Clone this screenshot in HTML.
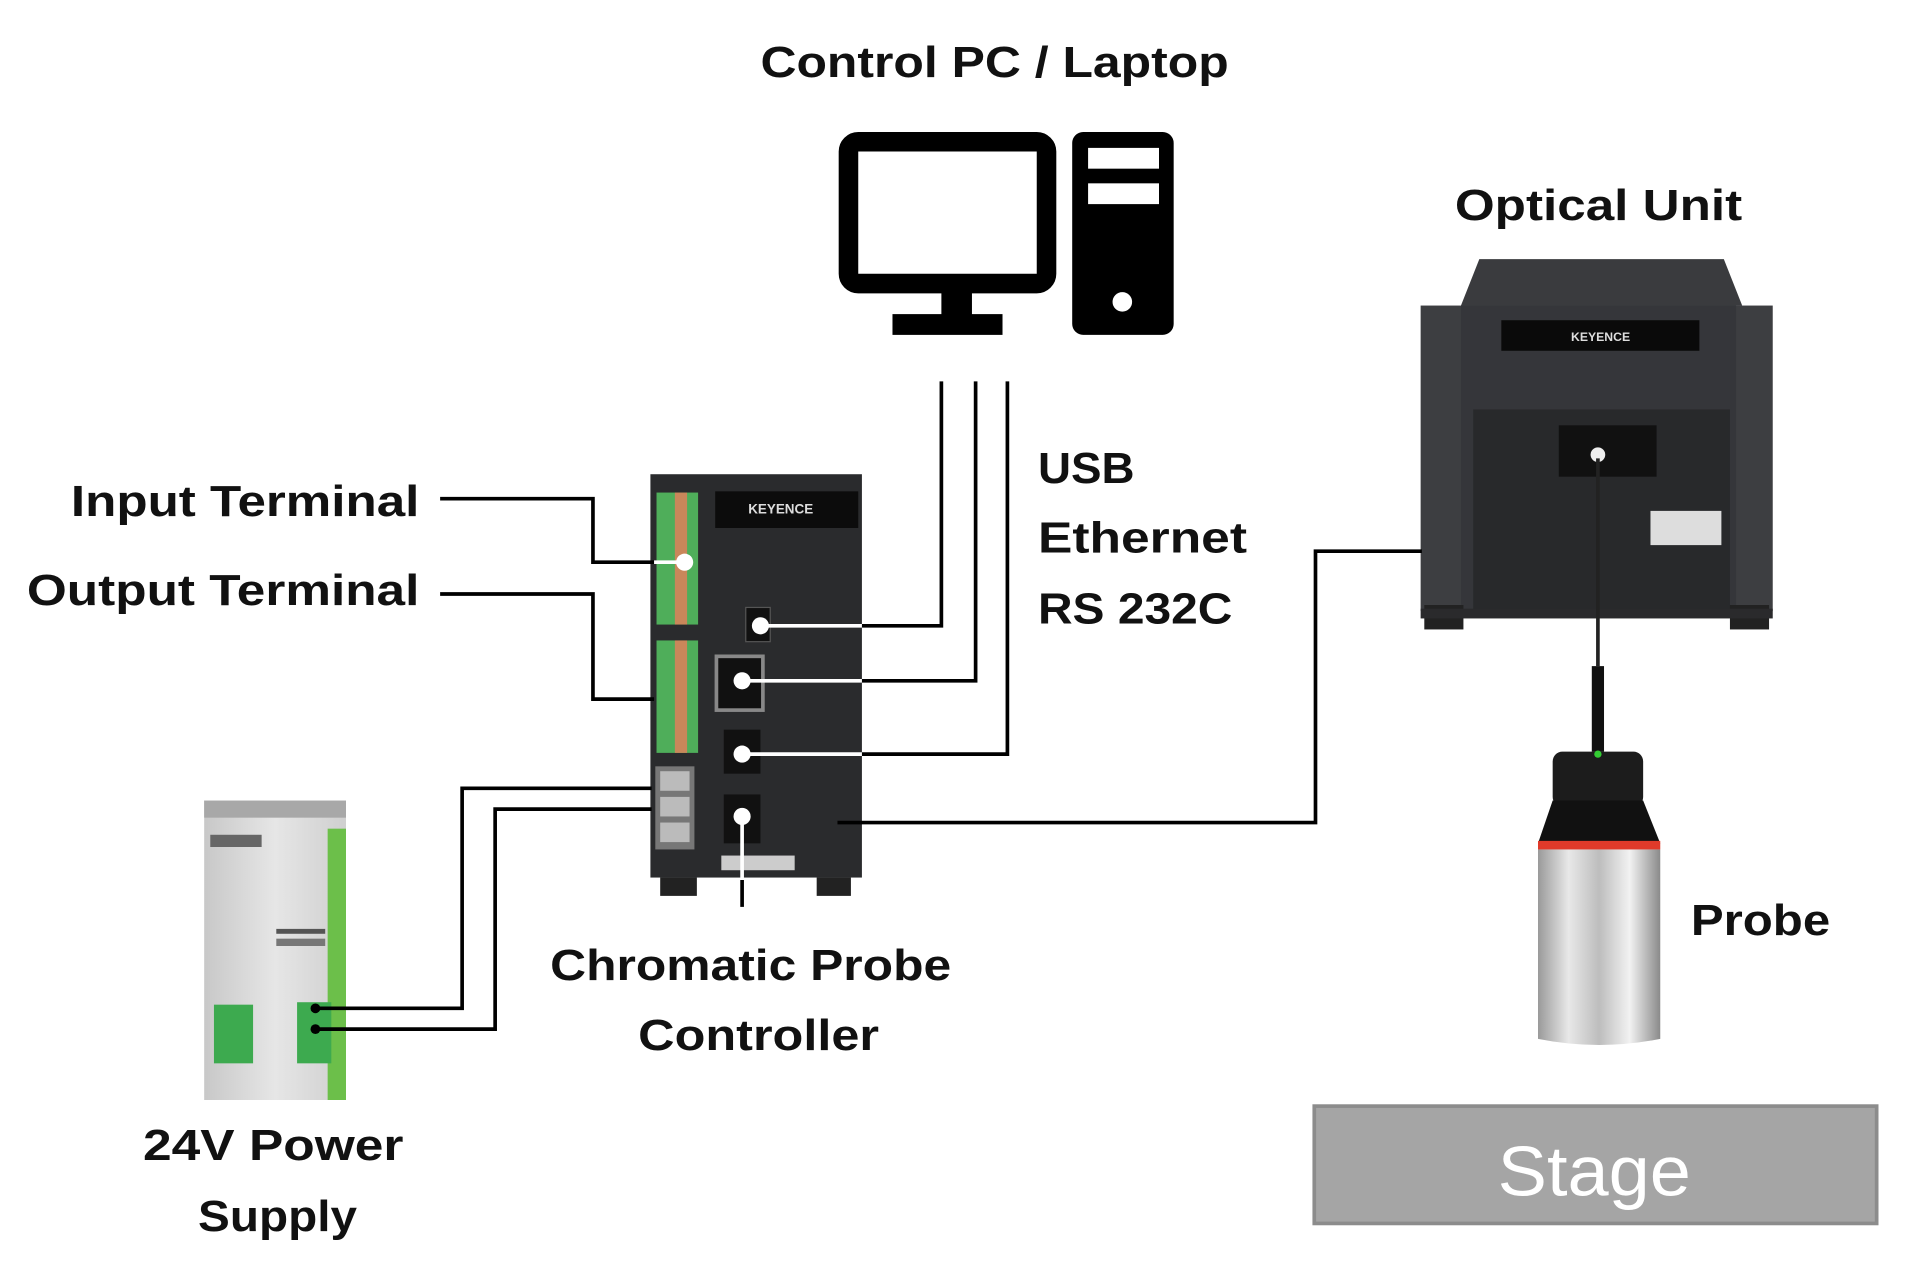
<!DOCTYPE html>
<html><head><meta charset="utf-8"><style>
html,body{margin:0;padding:0;background:#fff;width:1917px;height:1276px;overflow:hidden}
svg{display:block}
text{font-family:"Liberation Sans",sans-serif;font-weight:bold;fill:#111}
</style></head><body>
<svg width="1917" height="1276" viewBox="0 0 1568 1044" preserveAspectRatio="none" xmlns="http://www.w3.org/2000/svg">
<defs>
<linearGradient id="silver" x1="0" x2="1" y1="0" y2="0">
<stop offset="0" stop-color="#9a9a9a"/><stop offset="0.25" stop-color="#e8e8e8"/><stop offset="0.5" stop-color="#bdbdbd"/><stop offset="0.75" stop-color="#f2f2f2"/><stop offset="1" stop-color="#8a8a8a"/></linearGradient>
<linearGradient id="psu" x1="0" x2="1"><stop offset="0" stop-color="#c8c8c8"/><stop offset="0.5" stop-color="#e6e6e6"/><stop offset="1" stop-color="#cfcfcf"/></linearGradient>
</defs>

<text x="622" y="63" font-size="36" textLength="383" lengthAdjust="spacingAndGlyphs">Control PC / Laptop</text>
<text x="1190" y="180" font-size="36" textLength="235" lengthAdjust="spacingAndGlyphs">Optical Unit</text>
<text x="849" y="395" font-size="36" textLength="79" lengthAdjust="spacingAndGlyphs">USB</text>
<text x="849" y="452" font-size="36" textLength="171" lengthAdjust="spacingAndGlyphs">Ethernet</text>
<text x="849" y="510" font-size="36" textLength="159" lengthAdjust="spacingAndGlyphs">RS 232C</text>
<text x="58" y="422" font-size="36" textLength="285" lengthAdjust="spacingAndGlyphs">Input Terminal</text>
<text x="22" y="495" font-size="36" textLength="321" lengthAdjust="spacingAndGlyphs">Output Terminal</text>
<text x="450" y="802" font-size="36" textLength="328" lengthAdjust="spacingAndGlyphs">Chromatic Probe</text>
<text x="522" y="859" font-size="36" textLength="197" lengthAdjust="spacingAndGlyphs">Controller</text>
<text x="117" y="949" font-size="36" textLength="213" lengthAdjust="spacingAndGlyphs">24V Power</text>
<text x="162" y="1007" font-size="36" textLength="130" lengthAdjust="spacingAndGlyphs">Supply</text>
<text x="1383" y="765" font-size="36" textLength="114" lengthAdjust="spacingAndGlyphs">Probe</text>

<rect x="1075" y="905" width="460" height="96" fill="#a5a5a5" stroke="#8c8c8c" stroke-width="3"/>
<text x="1225" y="978" font-size="58" style="font-weight:normal;fill:#fff" textLength="158" lengthAdjust="spacingAndGlyphs">Stage</text>

<rect x="694" y="116" width="162" height="116" rx="8" fill="#fff" stroke="#000" stroke-width="16"/>
<rect x="770" y="238" width="25" height="22" fill="#000"/>
<rect x="730" y="257" width="90" height="17" fill="#000"/>
<rect x="877" y="108" width="83" height="166" rx="9" fill="#000"/>
<rect x="890" y="121" width="58" height="17" fill="#fff"/>
<rect x="890" y="150" width="58" height="17" fill="#fff"/>
<circle cx="918" cy="247" r="8" fill="#fff"/>

<rect x="167" y="655" width="116" height="245" fill="url(#psu)"/>
<rect x="167" y="655" width="116" height="14" fill="#a8a8a8"/>
<rect x="268" y="678" width="15" height="222" fill="#6cbf4a"/>
<rect x="172" y="683" width="42" height="10" fill="#666"/>
<rect x="175" y="822" width="32" height="48" fill="#3daa4f"/>
<rect x="243" y="820" width="28" height="50" fill="#3daa4f"/>
<rect x="226" y="760" width="40" height="4" fill="#555"/>
<rect x="226" y="768" width="40" height="6" fill="#777"/>

<rect x="532" y="388" width="173" height="330" fill="#2a2b2d"/>
<rect x="540" y="718" width="30" height="15" fill="#222"/>
<rect x="668" y="718" width="28" height="15" fill="#222"/>
<rect x="537" y="403" width="34" height="108" fill="#4fae5a"/>
<rect x="552" y="403" width="10" height="108" fill="#c9875a"/>
<rect x="537" y="524" width="34" height="92" fill="#4fae5a"/>
<rect x="552" y="524" width="10" height="92" fill="#c9875a"/>
<rect x="585" y="402" width="117" height="30" fill="#0c0c0c"/>
<text x="612" y="420" font-size="11" style="fill:#ddd">KEYENCE</text>
<rect x="610" y="497" width="20" height="28" fill="#111" stroke="#555"/>
<rect x="586" y="537" width="38" height="44" fill="#111" stroke="#888" stroke-width="3"/>
<rect x="592" y="597" width="30" height="36" fill="#111"/>
<rect x="592" y="650" width="30" height="40" fill="#111"/>
<rect x="536" y="627" width="32" height="68" fill="#777"/>
<rect x="540" y="631" width="24" height="16" fill="#bbb"/>
<rect x="540" y="652" width="24" height="16" fill="#bbb"/>
<rect x="540" y="673" width="24" height="16" fill="#bbb"/>
<rect x="590" y="700" width="60" height="12" fill="#ccc"/>

<path d="M1195 250 L1210 212 L1410 212 L1425 250 Z" fill="#3a3b3e"/>
<rect x="1162" y="250" width="288" height="250" fill="#3d3e41"/>
<rect x="1195" y="250" width="225" height="250" fill="#35363a"/>
<rect x="1228" y="262" width="162" height="25" fill="#0a0a0a"/>
<text x="1285" y="279" font-size="10" style="fill:#ddd">KEYENCE</text>
<rect x="1205" y="335" width="210" height="165" fill="#28292b"/>
<rect x="1275" y="348" width="80" height="42" fill="#111"/>
<rect x="1350" y="418" width="58" height="28" fill="#ddd"/>
<rect x="1165" y="495" width="32" height="20" fill="#222"/>
<rect x="1415" y="495" width="32" height="20" fill="#222"/>
<rect x="1162" y="498" width="288" height="8" fill="#2a2a2c"/>
<circle cx="1307" cy="372" r="6" fill="#eee"/>

<line x1="1307" y1="375" x2="1307" y2="545" stroke="#222" stroke-width="3"/>
<rect x="1302" y="545" width="10" height="70" fill="#111"/>
<rect x="1270" y="615" width="74" height="45" rx="8" fill="#1c1c1c"/>
<path d="M1270 655 L1344 655 L1358 690 L1258 690 Z" fill="#111"/>
<rect x="1258" y="688" width="100" height="7" fill="#e03a2a"/>
<path d="M1258 695 L1358 695 L1358 850 Q1308 860 1258 850 Z" fill="url(#silver)"/>
<circle cx="1307" cy="617" r="3" fill="#3c3"/>

<g fill="none" stroke="#000" stroke-width="3">
<polyline points="770,312 770,512 705,512"/>
<polyline points="798,312 798,557 705,557"/>
<polyline points="824,312 824,617 705,617"/>
<polyline points="1163,451 1076,451 1076,673 685,673"/>
<polyline points="360,408 485,408 485,460 535,460"/>
<polyline points="360,486 485,486 485,572 535,572"/>
<polyline points="533,645 378,645 378,825 258,825"/>
<polyline points="533,662 405,662 405,842 258,842"/>
<line x1="607" y1="720" x2="607" y2="742"/>
</g>
<g fill="none" stroke="#fff" stroke-width="3">
<line x1="705" y1="512" x2="622" y2="512"/>
<line x1="705" y1="557" x2="607" y2="557"/>
<line x1="705" y1="617" x2="607" y2="617"/>
<line x1="535" y1="460" x2="560" y2="460"/>
<line x1="607" y1="668" x2="607" y2="720"/>
</g>
<g fill="#fff">
<circle cx="622" cy="512" r="7"/><circle cx="607" cy="557" r="7"/><circle cx="607" cy="617" r="7"/>
<circle cx="607" cy="668" r="7"/><circle cx="560" cy="460" r="7"/>
</g>
<circle cx="258" cy="825" r="4" fill="#000"/><circle cx="258" cy="842" r="4" fill="#000"/>
</svg>
</body></html>
